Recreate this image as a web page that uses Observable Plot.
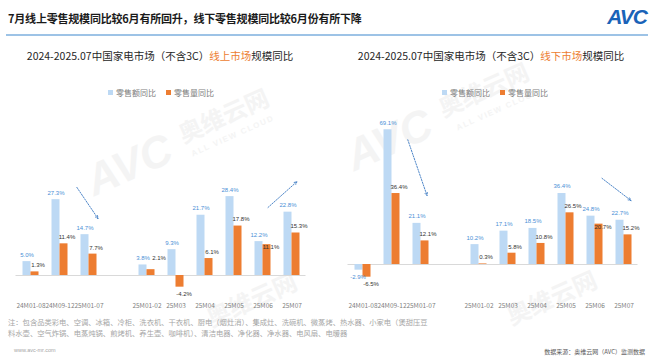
<!DOCTYPE html>
<html>
<head>
<meta charset="utf-8">
<script src="https://cdn.jsdelivr.net/npm/d3@7"></script>
<script src="https://cdn.jsdelivr.net/npm/@observablehq/plot@0.6"></script>
<style>
  html, body { margin: 0; padding: 0; background: #fff; }
  #page { position: relative; width: 653px; height: 362px; overflow: hidden; background: #fff;
          font-family: "Noto Sans CJK SC", "Liberation Sans", sans-serif; }
  .abs { position: absolute; white-space: nowrap; }
  #mainTitle { left: 8px; top: 10px; font-size: 11px; font-weight: bold; color: #1a1a1a; letter-spacing: -0.2px; }
  #rule { left: 6px; top: 34px; width: 642px; height: 1.5px; background: #9dc3e6; }
  #logo { right: 6px; top: 5px; font-family: "Liberation Sans", Arial, sans-serif; font-size: 21px; font-weight: bold; font-style: italic; color: #1a63b8; letter-spacing: -1px; }
  .ctitle { top: 48px; font-size: 10.5px; color: #262626; transform: translateX(-50%); }
  .ctitle .hl { color: #ed7d31; }
  .legend { top: 87px; font-size: 8px; color: #808080; transform: translateX(-50%); display: flex; align-items: center; }
  .legend .sw { display: inline-block; width: 5px; height: 5px; margin-right: 3px; }
  .legend .item { display: flex; align-items: center; margin: 0 5px; }
  .chart { top: 100px; }
  .wm { color: #f4f4f4; transform-origin: left top; transform: rotate(-24deg); }
  .wm.logo { font-family: "Liberation Sans", sans-serif; font-weight: bold; font-style: italic; font-size: 44px; }
  .wm.cn { font-size: 24px; font-weight: bold; }
  .wm.en { font-family: "Liberation Sans", sans-serif; font-size: 8px; font-weight: bold; letter-spacing: 1.5px; }
  #note { left: 8px; top: 317px; font-size: 7.3px; line-height: 11px; color: #a6a6a6; }
  #www { left: 14px; top: 347px; font-size: 5.5px; color: #a6a6a6; font-family: "Liberation Sans", sans-serif; }
  #src { right: 8px; top: 347px; font-size: 6px; color: #595959; }
</style>
</head>
<body>
<div id="page">
  <!-- faint watermark -->
  <div class="abs wm logo" style="left:78px; top:160px;">AVC</div>
  <div class="abs wm cn" style="left:172px; top:118px;">奥维云网</div>
  <div class="abs wm en" style="left:190px; top:150px;">ALL VIEW CLOUD</div>
  <div class="abs wm cn" style="left:200px; top:302px;">奥维云网</div>
  <div class="abs wm logo" style="left:338px; top:135px;">AVC</div>
  <div class="abs wm cn" style="left:432px; top:92px;">奥维云网</div>
  <div class="abs wm en" style="left:455px; top:124px;">ALL VIEW CLOUD</div>
  <div class="abs wm cn" style="left:500px; top:300px;">奥维云网</div>

  <div id="mainTitle" class="abs">7月线上零售规模同比较6月有所回升，线下零售规模同比较6月份有所下降</div>
  <div id="rule" class="abs"></div>
  <div id="logo" class="abs">AVC</div>

  <div class="abs ctitle" style="left:160px;">2024-2025.07中国家电市场（不含3C）<span class="hl">线上市场</span>规模同比</div>
  <div class="abs ctitle" style="left:491px;">2024-2025.07中国家电市场（不含3C）<span class="hl">线下市场</span>规模同比</div>

  <div id="legendL" class="abs legend" style="left:161px;"></div>
  <div id="legendR" class="abs legend" style="left:495px;"></div>

  <div id="chartL" class="abs chart" style="left:0px;"></div>
  <div id="chartR" class="abs chart" style="left:330px;"></div>

  <div id="note" class="abs">注：包含品类彩电、空调、冰箱、冷柜、洗衣机、干衣机、厨电（烟灶消）、集成灶、洗碗机、微蒸烤、热水器、小家电（煲甜压豆<br>料水壶、空气炸锅、电蒸炖锅、煎烤机、养生壶、咖啡机）、清洁电器、净化器、净水器、电风扇、电暖器</div>
  <div id="www" class="abs">www.avc-mr.com</div>
  <div id="src" class="abs">数据来源：奥维云网（AVC）监测数据</div>
</div>
<script>
// ---------- data ----------
const categories = ["24M01-08", "24M09-12", "25M01-07", "", "25M01-02", "25M03", "25M04", "25M05", "25M06", "25M07"];
const seriesNames = ["零售额同比", "零售量同比"];
const onlineAmount  = [5.0, 27.3, 14.7, null, 3.8, 9.3, 21.7, 28.4, 12.2, 22.8];
const onlineVolume  = [1.3, 11.4, 7.7, null, 2.1, -4.2, 6.1, 17.8, 11.1, 15.3];
const offlineAmount = [-2.9, 69.1, 21.1, null, 10.2, 17.1, 18.5, 36.4, 24.8, 22.7];
const offlineVolume = [-6.5, 36.4, 12.1, null, 0.3, 5.8, 10.8, 26.5, 20.7, 15.2];
// trend-arrow annotations (data units)
const onlineArrows  = [
  {x1: "24M09-12", y1: 35.9, x2: "25M01-07", y2: 20.5, inset: 14},
  {x1: "25M06", y1: 24.5, x2: "25M07", y2: 33.8, inset: 0}
];
const offlineArrows = [
  {x1: "24M09-12", y1: 78.5, x2: "25M01-07", y2: 35.4, inset: 30},
  {x1: "25M06", y1: 44.2, x2: "25M07", y2: 32.8, inset: 0}
];

const COL_A = "#bdd9f4";
const COL_V = "#ed7d31";
const LABEL_A = "#4a8fd6";
const LABEL_V = "#333333";
const ARROW = "#3a78c2";

function legend(el) {
  el.innerHTML = seriesNames.map((n, i) =>
    `<span class="item"><span class="sw" style="background:${i ? COL_V : COL_A}"></span>${n}</span>`).join("");
}
legend(document.getElementById("legendL"));
legend(document.getElementById("legendR"));

function rows(a, v) {
  return categories.map((c, i) => ({cat: c, a: a[i], v: v[i]})).filter(d => d.a != null);
}
const fmt = x => x.toFixed(1) + "%";

function chart({a, v, arrows, width, marginLeft, marginRight, yDomain, arrowDx}) {
  const data = rows(a, v);
  const H = 212, mt = 20, mb = 22;
  const pxPerUnit = (H - mt - mb) / (yDomain[1] - yDomain[0]);
  // orange labels that would collide with the blue label beside them:
  // tucked onto the bar when it is tall enough, otherwise pushed up and right
  const near = d => d.v >= 0 && (d.a - d.v) * pxPerUnit < 10;
  const tuck = d => near(d) && d.v * pxPerUnit >= 10;
  const lift = d => near(d) && d.v * pxPerUnit < 10;
  const normal = d => d.v >= 0 && !near(d);
  const lblFont = "Liberation Sans, Noto Sans CJK SC, sans-serif";
  const common = {x: "cat", fontSize: 6, fontFamily: lblFont, lineAnchor: "middle"};
  return Plot.plot({
    width, height: H,
    marginLeft, marginRight, marginTop: mt, marginBottom: mb,
    style: {fontFamily: "Noto Sans CJK SC, sans-serif", fontSize: "6.5px", color: "#7f7f7f", background: "transparent", overflow: "visible"},
    x: {domain: categories, padding: 0, label: null, tickSize: 0, tickPadding: 13},
    y: {domain: yDomain, axis: null},
    marks: [
      Plot.ruleY([0], {stroke: "#d9d9d9", strokeWidth: 1}),
      Plot.barY(data, {x: "cat", y: "a", fill: COL_A, insetLeft: 6.5, insetRight: 14.5}),
      Plot.barY(data, {x: "cat", y: "v", fill: COL_V, insetLeft: 14.5, insetRight: 6.5}),
      Plot.text(data.filter(d => d.a >= 0), {...common, y: "a", text: d => fmt(d.a), dx: -4, dy: -7, fill: LABEL_A}),
      Plot.text(data.filter(d => d.a < 0), {...common, y: "a", text: d => fmt(d.a), dx: -5, dy: 7, fill: LABEL_A}),
      Plot.text(data.filter(normal), {...common, y: "v", text: d => fmt(d.v), dx: 7, dy: -6.5, fill: LABEL_V}),
      Plot.text(data.filter(tuck), {...common, y: "v", text: d => fmt(d.v), dx: 8, dy: 2.5, fill: LABEL_V}),
      Plot.text(data.filter(lift), {...common, y: "v", text: d => fmt(d.v), dx: 12, dy: -12, fill: LABEL_V}),
      Plot.text(data.filter(d => d.v < 0), {...common, y: "v", text: d => fmt(d.v), dx: 8, dy: 7, fill: LABEL_V}),
      ...arrows.map((ar, i) => Plot.arrow([ar], {x1: "x1", y1: "y1", x2: "x2", y2: "y2", dx: arrowDx[i],
        insetStart: ar.inset, stroke: ARROW, strokeWidth: 0.9, strokeDasharray: "1.4,1.4", headLength: 5, headAngle: 50}))
    ]
  });
}

document.getElementById("chartL").appendChild(chart({
  a: onlineAmount, v: onlineVolume, arrows: onlineArrows,
  width: 320, marginLeft: 15.5, marginRight: 14.5, yDomain: [-5.4, 55.8], arrowDx: [9, 5]
}));
document.getElementById("chartR").appendChild(chart({
  a: offlineAmount, v: offlineVolume, arrows: offlineArrows,
  width: 323, marginLeft: 17.5, marginRight: 15.5, yDomain: [-13.33, 73.85], arrowDx: [6, 7]
}));
</script>
</body>
</html>
